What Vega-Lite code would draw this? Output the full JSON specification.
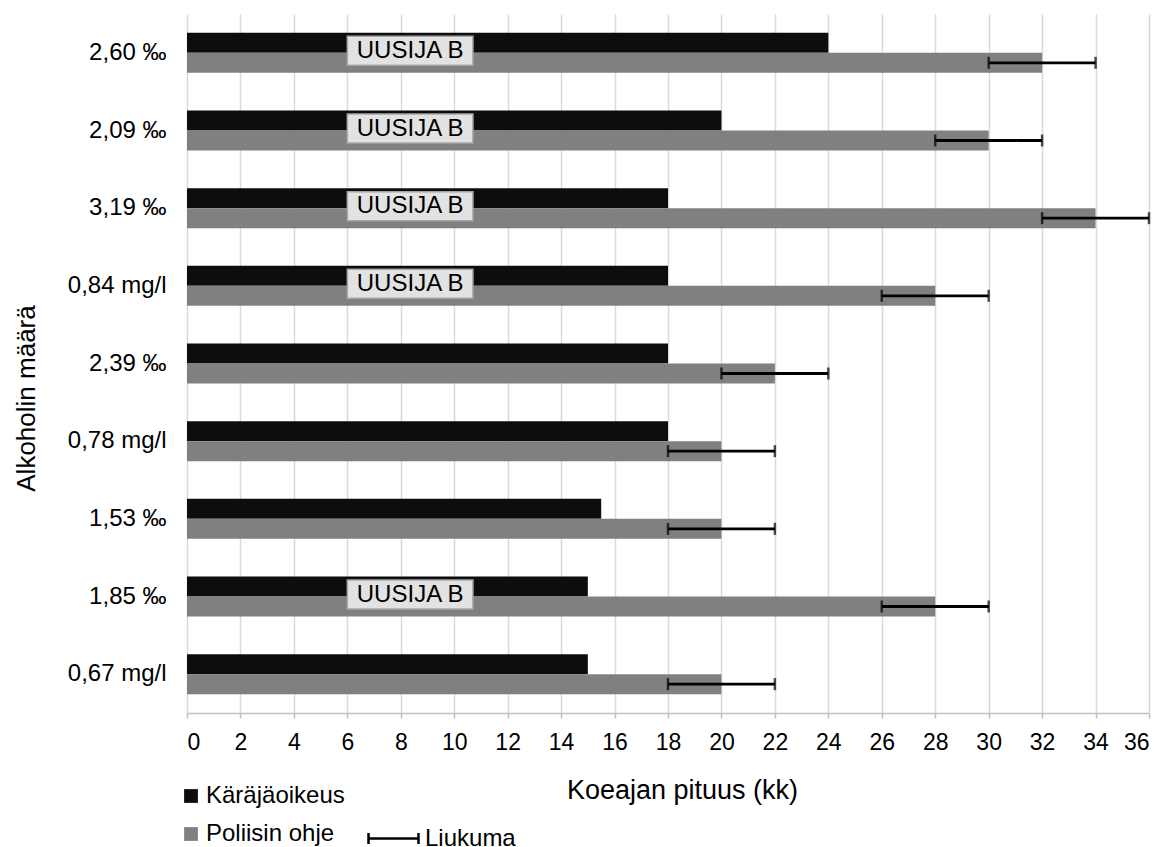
{
  "$schema": "https://vega.github.io/schema/vega-lite/v6.json",
  "width": 962,
  "height": 699,
  "autosize": {"type": "none"},
  "padding": {"left": 187, "top": 14, "right": 24, "bottom": 134},
  "background": "white",
  "config": {
    "font": "Liberation Sans",
    "view": {"stroke": null},
    "axis": {"labelColor": "#000000", "titleColor": "#000000", "titleFontWeight": "normal"},
    "legend": {"labelColor": "#000000", "padding": 0}
  },
  "data": {
    "values": [
      {"cat": "2,60 ‰", "Käräjäoikeus": 24, "Poliisin ohje": 32, "lo": 30, "hi": 34, "uusija": "UUSIJA B"},
      {"cat": "2,09 ‰", "Käräjäoikeus": 20, "Poliisin ohje": 30, "lo": 28, "hi": 32, "uusija": "UUSIJA B"},
      {"cat": "3,19 ‰", "Käräjäoikeus": 18, "Poliisin ohje": 34, "lo": 32, "hi": 36, "uusija": "UUSIJA B"},
      {"cat": "0,84 mg/l", "Käräjäoikeus": 18, "Poliisin ohje": 28, "lo": 26, "hi": 30, "uusija": "UUSIJA B"},
      {"cat": "2,39 ‰", "Käräjäoikeus": 18, "Poliisin ohje": 22, "lo": 20, "hi": 24, "uusija": ""},
      {"cat": "0,78 mg/l", "Käräjäoikeus": 18, "Poliisin ohje": 20, "lo": 18, "hi": 22, "uusija": ""},
      {"cat": "1,53 ‰", "Käräjäoikeus": 15.5, "Poliisin ohje": 20, "lo": 18, "hi": 22, "uusija": ""},
      {"cat": "1,85 ‰", "Käräjäoikeus": 15, "Poliisin ohje": 28, "lo": 26, "hi": 30, "uusija": "UUSIJA B"},
      {"cat": "0,67 mg/l", "Käräjäoikeus": 15, "Poliisin ohje": 20, "lo": 18, "hi": 22, "uusija": ""}
    ]
  },
  "encoding": {
    "y": {
      "field": "cat",
      "type": "nominal",
      "sort": null,
      "scale": {"paddingInner": 0.485, "paddingOuter": 0.2425},
      "axis": {
        "domain": false,
        "ticks": false,
        "grid": false,
        "labelFontSize": 24,
        "labelPadding": 21,
        "title": "Alkoholin määrä",
        "titleFontSize": 26,
        "titleX": -161,
        "titleY": 384,
        "titleAlign": "center",
        "titleBaseline": "middle",
        "titleAngle": -90
      }
    }
  },
  "layer": [
    {
      "transform": [{"fold": ["Käräjäoikeus", "Poliisin ohje"], "as": ["series", "value"]}],
      "mark": {"type": "bar"},
      "encoding": {
        "x": {
          "field": "value",
          "type": "quantitative",
          "scale": {"domain": [0, 36], "nice": false},
          "axis": {
            "values": [0,1,2,3,4,5,6,7,8,9,10,11,12,13,14,15,16,17,18,19,20,21,22,23,24,25,26,27,28,29,30,31,32,33,34,35,36],
            "labelExpr": "datum.value % 2 === 0 ? datum.label : ''",
            "labelOverlap": false,
            "labelFontSize": 23,
            "labelPadding": 13,
            "grid": true,
            "gridColor": {"condition": {"test": "datum.value % 2 === 0", "value": "#d9d9d9"}, "value": "#e8e8e8"},
            "gridWidth": 1.5,
            "domainColor": "#bfbfbf",
            "domainWidth": 1.5,
            "tickColor": "#bfbfbf",
            "tickWidth": 1.5,
            "tickSize": 5,
            "title": "Koeajan pituus (kk)",
            "titleFontSize": 27,
            "titleX": 495,
            "titleY": 77,
            "titleAlign": "center",
            "titleBaseline": "middle"
          }
        },
        "yOffset": {"field": "series", "type": "nominal", "scale": {"paddingInner": 0, "paddingOuter": 0}},
        "color": {
          "field": "series",
          "type": "nominal",
          "scale": {"domain": ["Käräjäoikeus", "Poliisin ohje"], "range": ["#0d0d0d", "#808080"]},
          "legend": {
            "title": null,
            "orient": "none",
            "legendX": -8,
            "legendY": 770,
            "direction": "vertical",
            "symbolType": "square",
            "symbolSize": 190,
            "symbolStrokeWidth": 0,
            "labelFontSize": 24,
            "labelOffset": 3,
            "rowPadding": 14
          }
        }
      }
    },
    {
      "transform": [
        {"fold": ["Poliisin ohje"], "as": ["s2", "v2"]}
      ],
      "mark": {"type": "rule", "color": "#000000", "strokeWidth": 2.8},
      "encoding": {
        "x": {"field": "lo", "type": "quantitative"},
        "x2": {"field": "hi"},
        "yOffset": {"field": "s2", "type": "nominal"},
        "strokeDash": {
          "field": "s2",
          "type": "nominal",
          "scale": {"domain": ["Poliisin ohje"], "range": [[1, 0]]},
          "legend": {
            "title": null,
            "orient": "none",
            "legendX": 180,
            "legendY": 798,
            "labelExpr": "'Liukuma'",
            "symbolType": "M-1,-0.22L-1,0.22M-1,0L1,0M1,-0.22L1,0.22",
            "symbolSize": 2500,
            "symbolStrokeColor": "#000000",
            "symbolFillColor": "transparent",
            "symbolStrokeWidth": 2.5,
            "labelFontSize": 24,
            "labelOffset": 5
          }
        }
      }
    },
    {
      "transform": [
        {"fold": ["Poliisin ohje"], "as": ["s2", "v2"]}
      ],
      "mark": {"type": "tick", "orient": "vertical", "color": "#000000", "size": 12, "thickness": 2.5},
      "encoding": {
        "x": {"field": "lo", "type": "quantitative"},
        "yOffset": {"field": "s2", "type": "nominal"}
      }
    },
    {
      "transform": [
        {"fold": ["Poliisin ohje"], "as": ["s2", "v2"]}
      ],
      "mark": {"type": "tick", "orient": "vertical", "color": "#000000", "size": 12, "thickness": 2.5},
      "encoding": {
        "x": {"field": "hi", "type": "quantitative"},
        "yOffset": {"field": "s2", "type": "nominal"}
      }
    },
    {
      "transform": [{"filter": "datum.uusija !== ''"}],
      "mark": {"type": "bar", "height": 29, "yOffset": -2, "fill": "#e2e2e2", "stroke": "#a6a6a6", "strokeWidth": 1.5},
      "encoding": {
        "x": {"datum": 6.0, "type": "quantitative"},
        "x2": {"datum": 10.7}
      }
    },
    {
      "transform": [{"filter": "datum.uusija !== ''"}],
      "mark": {"type": "text", "fontSize": 24, "align": "center", "baseline": "middle", "yOffset": -2, "color": "#000000"},
      "encoding": {
        "x": {"datum": 8.35, "type": "quantitative"},
        "text": {"field": "uusija"}
      }
    }
  ]
}
